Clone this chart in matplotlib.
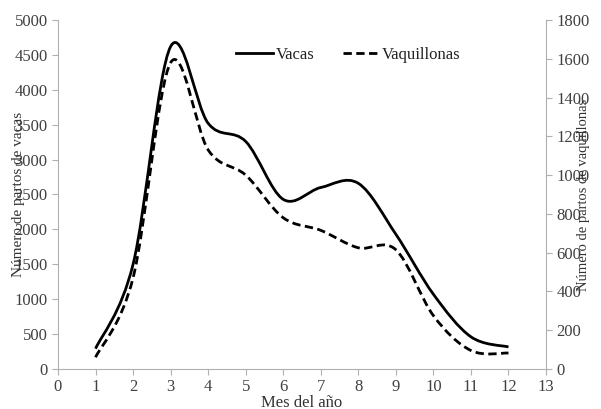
import matplotlib
matplotlib.use("Agg")
import matplotlib.pyplot as plt
from matplotlib.path import Path
from matplotlib.patches import PathPatch
from matplotlib.lines import Line2D

plt.rcParams['font.family'] = ['Liberation Serif', 'DejaVu Serif']

meses = [1, 2, 3, 4, 5, 6, 7, 8, 9, 10, 11, 12]
vacas = [290, 1500, 4620, 3520, 3260, 2430, 2600, 2660, 1930, 1070, 460, 315]
vaquillonas = [60, 470, 1580, 1130, 1000, 780, 715, 625, 615, 275, 95, 82]


def smooth_path(xs, ys):
    # bezier a la Excel (linea suavizada)
    verts = [(xs[0], ys[0])]
    codes = [Path.MOVETO]
    n = len(xs)
    for i in range(n - 1):
        x0, y0 = (xs[i - 1], ys[i - 1]) if i > 0 else (xs[i], ys[i])
        x1, y1 = xs[i], ys[i]
        x2, y2 = xs[i + 1], ys[i + 1]
        x3, y3 = (xs[i + 2], ys[i + 2]) if i + 2 < n else (x2, y2)
        c1 = (x1 + (x2 - x0) / 6, y1 + (y2 - y0) / 6)
        c2 = (x2 - (x3 - x1) / 6, y2 - (y3 - y1) / 6)
        verts += [c1, c2, (x2, y2)]
        codes += [Path.CURVE4] * 3
    return Path(verts, codes)


fig = plt.figure(figsize=(6.01, 4.09), dpi=100)
ax = fig.add_axes([0.0965, 0.098, 0.812, 0.853])
ax2 = ax.twinx()

ax.add_patch(PathPatch(smooth_path(meses, vacas), fill=False, lw=2.0,
                       edgecolor='black', transform=ax.transData))
ax2.add_patch(PathPatch(smooth_path(meses, vaquillonas), fill=False, lw=2.0,
                        edgecolor='black', linestyle=(0, (3, 1.6)),
                        transform=ax2.transData))

ax.set_xlim(0, 13)
ax.set_ylim(0, 5000)
ax2.set_ylim(0, 1800)
ax.set_xticks(range(0, 14))
ax.set_yticks(range(0, 5001, 500))
ax2.set_yticks(range(0, 1801, 200))

for a in (ax, ax2):
    a.spines['top'].set_visible(False)
    for s in a.spines.values():
        s.set_color('#b0b0b0')
    a.tick_params(colors='#b0b0b0', labelcolor='#404040', labelsize=12,
                  length=4, width=0.8)
ax.spines['right'].set_visible(False)
ax2.spines['left'].set_visible(False)
ax2.spines['bottom'].set_visible(False)

ax.set_xlabel('Mes del año', fontsize=12, color='#333333', labelpad=0)
ax.set_ylabel('Número de partos de vacas', fontsize=11, color='#333333',
              labelpad=-8)
ax2.set_ylabel('Número de partos de vaquillonas', fontsize=10.5,
               color='#333333', labelpad=-9)

handles = [Line2D([], [], color='black', lw=2.0),
           Line2D([], [], color='black', lw=2.0, linestyle=(0, (3, 1.6)))]
ax.legend(handles, ['Vacas', 'Vaquillonas'], ncol=2, frameon=False,
          fontsize=12, loc='center', bbox_to_anchor=(0.595, 0.9),
          handlelength=2.2, handletextpad=0.15, columnspacing=1.7,
          labelcolor='#222222')

fig.savefig('out.png', dpi=100)
